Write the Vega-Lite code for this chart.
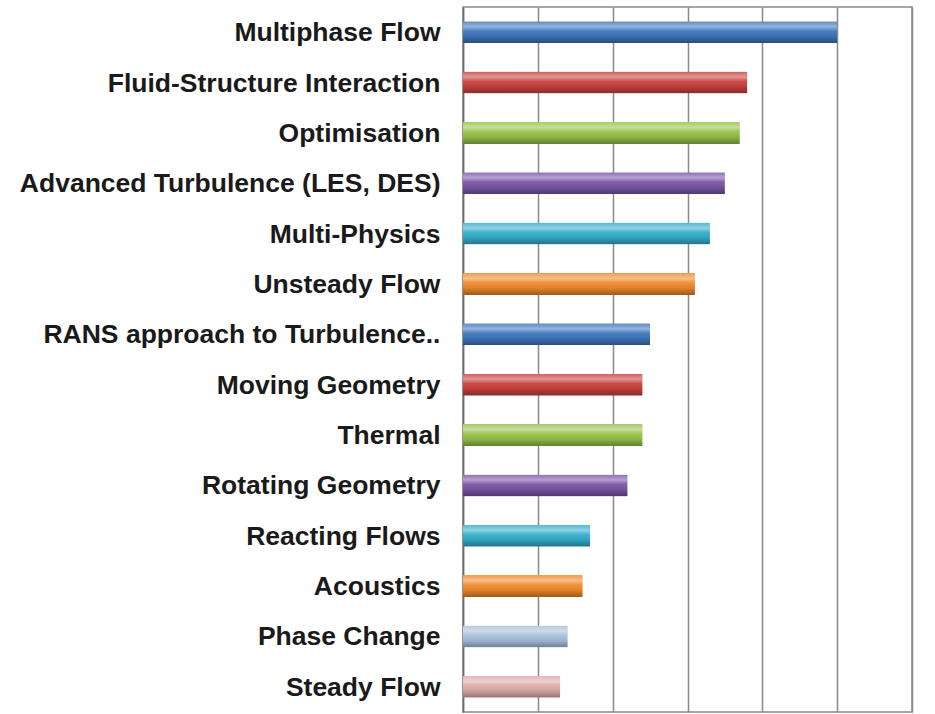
{
  "$schema": "https://vega.github.io/schema/vega-lite/v6.json",
  "autosize": {"type": "none"},
  "padding": {"left": 463, "top": 7, "right": 23, "bottom": 2},
  "width": 449,
  "height": 705,
  "background": "white",
  "config": {
    "view": {"stroke": "#8a8a8a", "strokeWidth": 1.5},
    "font": "Liberation Sans"
  },
  "data": {
    "values": [
      {"topic": "Multiphase Flow", "value": 50},
      {"topic": "Fluid-Structure Interaction", "value": 38},
      {"topic": "Optimisation", "value": 37},
      {"topic": "Advanced Turbulence (LES, DES)", "value": 35},
      {"topic": "Multi-Physics", "value": 33},
      {"topic": "Unsteady Flow", "value": 31},
      {"topic": "RANS approach to Turbulence..", "value": 25},
      {"topic": "Moving Geometry", "value": 24},
      {"topic": "Thermal", "value": 24},
      {"topic": "Rotating Geometry", "value": 22},
      {"topic": "Reacting Flows", "value": 17},
      {"topic": "Acoustics", "value": 16},
      {"topic": "Phase Change", "value": 14},
      {"topic": "Steady Flow", "value": 13}
    ]
  },
  "encoding": {
    "y": {
      "field": "topic",
      "type": "nominal",
      "sort": null,
      "title": null,
      "scale": {"paddingInner": 0.5, "paddingOuter": 0.25},
      "axis": {
        "ticks": false,
        "labelPadding": 23,
        "labelFont": "Liberation Sans",
        "labelFontWeight": "bold",
        "labelFontSize": 26.5,
        "labelColor": "#1a1a1a",
        "labelLimit": 500,
        "labelOffset": 1,
        "domainColor": "#6e6e6e",
        "domainWidth": 1.5,
        "grid": false
      }
    },
    "x": {
      "field": "value",
      "type": "quantitative",
      "title": null,
      "scale": {"domain": [0, 60], "nice": false},
      "axis": {
        "values": [0, 10, 20, 30, 40, 50, 60],
        "labels": false,
        "ticks": false,
        "domain": false,
        "grid": true,
        "gridColor": "#8a8a8a",
        "gridWidth": 1.5
      }
    }
  },
  "layer": [
    {
      "mark": {"type": "bar", "size": 22, "cornerRadius": 1},
      "encoding": {
        "color": {
          "field": "topic",
          "type": "nominal",
          "legend": null,
          "scale": {
            "domain": ["Multiphase Flow", "Fluid-Structure Interaction", "Optimisation", "Advanced Turbulence (LES, DES)", "Multi-Physics", "Unsteady Flow", "RANS approach to Turbulence..", "Moving Geometry", "Thermal", "Rotating Geometry", "Reacting Flows", "Acoustics", "Phase Change", "Steady Flow"],
            "range": ["#3f76bd", "#c9423f", "#97c24a", "#7a55a6", "#33aecb", "#f08a2c", "#3f76bd", "#c9423f", "#97c24a", "#7a55a6", "#33aecb", "#f08a2c", "#a9bfdc", "#deaaa8"]
          }
        }
      }
    },
    {
      "mark": {
        "type": "bar",
        "size": 22,
        "cornerRadius": 1,
        "fill": {
          "gradient": "linear",
          "x1": 0, "y1": 0, "x2": 0, "y2": 1,
          "stops": [
            {"offset": 0, "color": "rgba(255,255,255,0.15)"},
            {"offset": 0.25, "color": "rgba(255,255,255,0.45)"},
            {"offset": 0.45, "color": "rgba(255,255,255,0.05)"},
            {"offset": 0.7, "color": "rgba(0,0,0,0.08)"},
            {"offset": 1, "color": "rgba(0,0,0,0.35)"}
          ]
        }
      },
      "encoding": {}
    }
  ]
}
